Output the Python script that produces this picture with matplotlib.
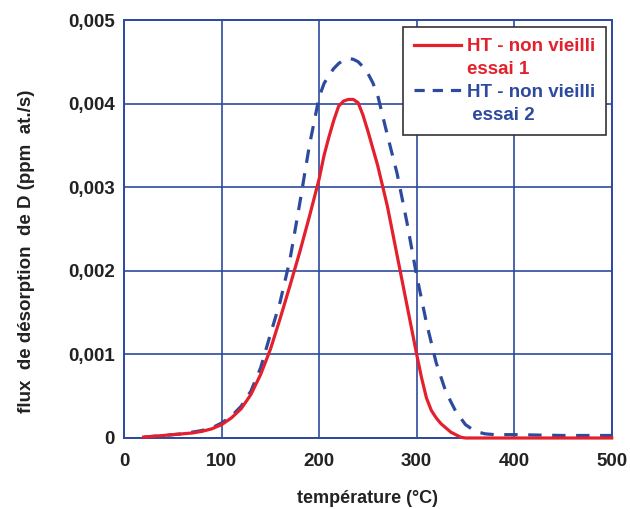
import matplotlib
matplotlib.use("Agg")
import matplotlib.pyplot as plt
from matplotlib.lines import Line2D

plt.rcParams['font.family'] = ['Liberation Sans', 'DejaVu Sans']
plt.rcParams['font.weight'] = 'bold'

# essai 1 (red, solid): temperature (°C) and desorption flux
temp1 = [20, 30, 40, 50, 60, 70, 80, 90, 100, 110, 120, 130, 140, 150, 160, 170,
         180, 190, 200, 205, 210, 215, 220, 225, 230, 235, 240, 245, 250, 260,
         270, 280, 290, 300, 305, 310, 315, 320, 325, 330, 335, 340, 345, 350,
         400, 450, 500]
essai1 = [0.00001, 0.00002, 0.00003, 0.00004, 0.00005, 0.00006, 0.00008, 0.00011,
          0.00016, 0.00024, 0.00035, 0.00052, 0.00076, 0.00106, 0.00143, 0.00182,
          0.00222, 0.00265, 0.00310, 0.00338, 0.00360, 0.00380, 0.00397, 0.00403,
          0.00405, 0.00405, 0.00401, 0.00386, 0.00367, 0.00326, 0.00277, 0.00218,
          0.00159, 0.00100, 0.00072, 0.00048, 0.00033, 0.00024, 0.00017, 0.00012,
          0.00007, 0.00004, 0.00001, 0.0, 0.0, 0.0, 0.0]

# essai 2 (blue, dashed)
temp2 = [20, 30, 40, 50, 60, 70, 80, 90, 100, 110, 120, 130, 140, 150, 160, 170,
         180, 190, 200, 205, 210, 215, 220, 225, 230, 235, 240, 245, 250, 255,
         260, 270, 280, 290, 300, 310, 320, 330, 340, 350, 360, 370, 380, 400,
         450, 500]
essai2 = [0.00001, 0.00002, 0.00003, 0.00004, 0.00005, 0.00007, 0.00009, 0.00012,
          0.00018, 0.00026, 0.00038, 0.00056, 0.00084, 0.00124, 0.00163, 0.00213,
          0.00280, 0.00350, 0.00408, 0.00424, 0.00434, 0.00442, 0.00448, 0.00452,
          0.00454, 0.00453, 0.00450, 0.00444, 0.00436, 0.00425, 0.00410, 0.00362,
          0.00316, 0.00258, 0.00194, 0.00138, 0.00090, 0.00055, 0.00032, 0.00016,
          0.00008, 0.00005, 0.00004, 0.00004, 0.00003, 0.00003]

x_ticks = [0, 100, 200, 300, 400, 500]
y_ticks = [0, 0.001, 0.002, 0.003, 0.004, 0.005]
y_tick_labels = ["0", "0,001", "0,002", "0,003", "0,004", "0,005"]

label1 = "HT - non vieilli"
label1b = "essai 1"
label2 = "HT - non vieilli"
label2b = " essai 2"

RED = '#E3202B'
BLUE = '#2E4A9E'
GRID = '#2E4A9E'
TXT = '#222222'

fig = plt.figure(figsize=(6.30, 5.09), dpi=100)
ax = fig.add_axes([0.197, 0.1395, 0.774, 0.8212])

ax.plot(temp1, essai1, color=RED, lw=2.3, clip_on=False, zorder=4,
        solid_joinstyle='round')
ax.plot(temp2, essai2, color=BLUE, lw=2.3, ls=(0, (4.2, 3.3)), clip_on=False, zorder=3)

ax.set_xlim(0, 500)
ax.set_ylim(0, 0.005)
ax.set_xticks(x_ticks)
ax.set_xticklabels([str(t) for t in x_ticks])
ax.set_yticks(y_ticks)
ax.set_yticklabels(y_tick_labels)
ax.tick_params(axis='both', length=0, labelsize=13.5, colors=TXT)
ax.tick_params(axis='x', pad=11)
ax.tick_params(axis='y', pad=6.5)
for lab in ax.get_xticklabels() + ax.get_yticklabels():
    lab.set_fontweight('bold')

ax.grid(True, color=GRID, lw=1.2)
ax.set_axisbelow(True)
for s in ax.spines.values():
    s.set_color(GRID)
    s.set_linewidth(1.4)

ax.set_xlabel("température (°C)", fontsize=13, fontweight='bold', color=TXT)
ax.xaxis.set_label_coords(0.5, -0.125)
ax.set_ylabel("flux  de désorption  de D (ppm  at./s)", fontsize=13.5, fontweight='bold',
              color=TXT)
ax.yaxis.set_label_coords(-0.183, 0.446)

handles = [Line2D([], [], color=RED, lw=2.3),
           Line2D([], [], color='none'),
           Line2D([], [], color=BLUE, lw=2.3, ls=(0, (3.2, 2.5))),
           Line2D([], [], color='none')]
leg = ax.legend(handles, [label1, label1b, label2, label2b],
                loc='upper left', bbox_to_anchor=(0.572, 0.983),
                frameon=True, fancybox=False, edgecolor='#333333',
                framealpha=1, borderpad=0.6, labelspacing=0.3,
                handlelength=2.5, handletextpad=0.3, borderaxespad=0,
                prop={'size': 13.5, 'weight': 'bold'})
leg.get_frame().set_linewidth(1.2)
for t, c in zip(leg.get_texts(), [RED, RED, BLUE, BLUE]):
    t.set_color(c)
leg.set_zorder(10)

fig.savefig("out.png", dpi=100)
